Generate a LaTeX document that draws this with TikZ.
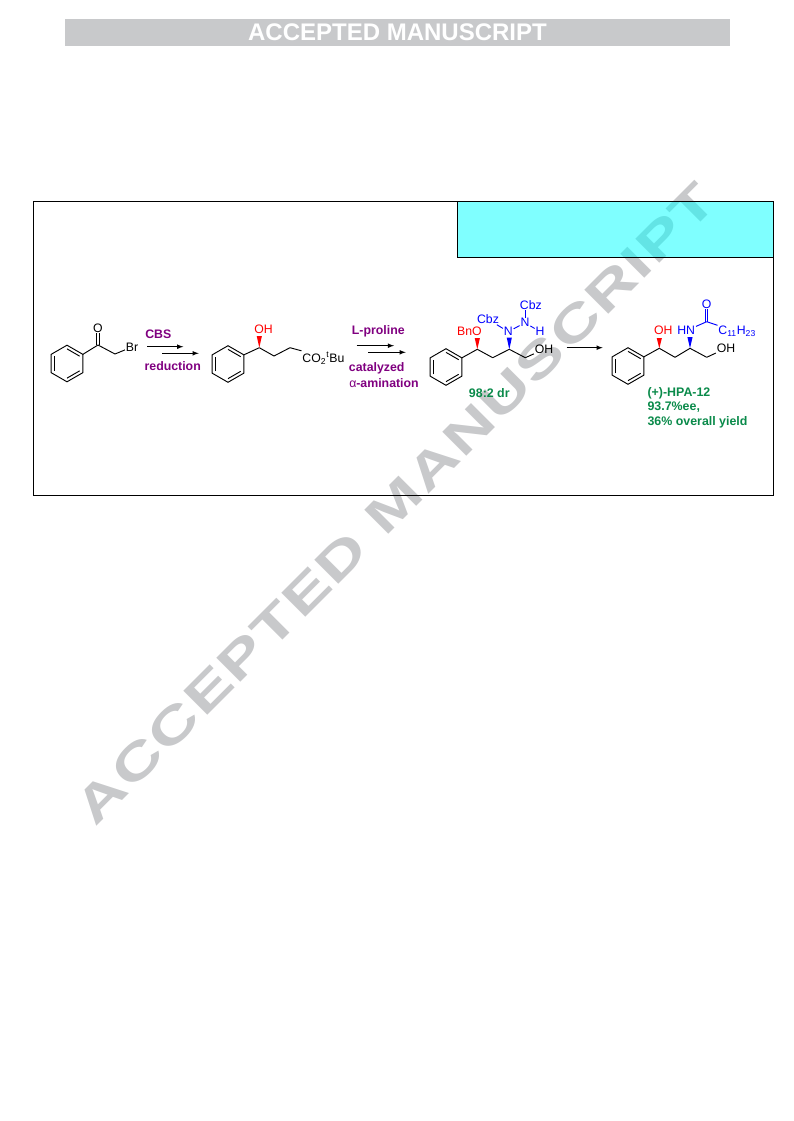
\documentclass[tikz,border=0pt]{standalone}
\usepackage{fontspec}
\setmainfont{Liberation Sans}
\newfontfamily\stampfont{Liberation Sans}[LetterSpace=2]
\usetikzlibrary{positioning,calc,arrows}
\definecolor{bandgray}{HTML}{C8C9CB}
\definecolor{lab}{HTML}{800080}
\definecolor{res}{HTML}{0A8A4A}
\tikzset{
  atm/.style={inner sep=0.5pt, font=\fontsize{9.2}{11}\selectfont},
  ox/.style={atm, text=red},
  nt/.style={atm, text=blue},
  reag/.style={inner sep=0pt, text=lab, font=\fontsize{9.25}{11}\selectfont\bfseries},
  prod/.style={inner sep=0pt, text=res, align=left, font=\fontsize{9.3}{11}\selectfont\bfseries},
  bd/.style={line width=0.7pt},
  rx/.style={-latex, line width=0.6pt},
  box/.style={draw=black, line width=0.75pt}
}
\newcommand{\benzene}[3]{
  \coordinate (#1c) at (#2,#3);
  \coordinate (#1t) at ($(#1c)+(0,-18.3)$);
  \coordinate (#1ur) at ($(#1c)+(15.85,-9.15)$);
  \coordinate (#1lr) at ($(#1c)+(15.85,9.15)$);
  \coordinate (#1b) at ($(#1c)+(0,18.3)$);
  \coordinate (#1ll) at ($(#1c)+(-15.85,9.15)$);
  \coordinate (#1ul) at ($(#1c)+(-15.85,-9.15)$);
  \draw[bd] (#1t) -- (#1ur) -- (#1lr) -- (#1b) -- (#1ll) -- (#1ul) -- cycle;
  \draw[bd] ($(#1c)!.8!(#1t)$) -- ($(#1c)!.8!(#1ur)$);
  \draw[bd] ($(#1c)!.8!(#1lr)$) -- ($(#1c)!.8!(#1b)$);
  \draw[bd] ($(#1c)!.8!(#1ll)$) -- ($(#1c)!.8!(#1ul)$);
}
\newcommand{\wedgebond}[3]{
  \fill[#1] (#2) -- ($(#3)!2.6!90:($(#3)+(0,1)$)$) -- ($(#3)!2.6!-90:($(#3)+(0,1)$)$) -- cycle;
}
\begin{document}
\begin{tikzpicture}[x=0.75pt,y=-0.75pt]
	\useasboundingbox (0,0) rectangle (793,1121);

	\node[rotate=45, anchor=base, inner sep=0pt, text=bandgray, font=\stampfont\fontsize{37}{42}\selectfont\bfseries] (stamp) at (407.7,515.3) {\scalebox{1.4}[1]{ACCEPTED MANUSCRIPT}};
	\node[fill=bandgray, text=white, inner sep=0pt, minimum width=498.75pt, minimum height=20.25pt, font=\fontsize{18}{20}\selectfont\bfseries] (band) at (397.5,32.5) {\raisebox{-0.6pt}{ACCEPTED MANUSCRIPT}};

	\draw[box] (33,201) rectangle (773,495);
	\draw[box, fill={rgb,1:red,0;green,1;blue,1}, fill opacity=0.5] (457,201) rectangle (773,257);

	\benzene{ra}{67}{363.5}
	\coordinate (ca) at (98,345);
	\coordinate (cb) at (115,354);
	\node[atm] (oa) at (98,328) {O};
	\node[atm] (br) at (132,347) {Br};
	\draw[bd] (raur) -- (ca);
	\draw[bd] (ca) -- (cb);
	\draw[bd] (cb) -- (br);
	\draw[bd, transform canvas={xshift=-0.9pt}] (ca) -- (oa);
	\draw[bd, transform canvas={xshift=0.9pt}] (ca) -- (oa);

	\draw[rx] (147,346.7) -- (183.3,346.7);
	\draw[rx] (162.3,353.3) -- (198.7,353.3);
	\node[reag] (cbs) at (158.3,334) {CBS};
	\node[reag] (redn) at (172.7,366) {reduction};

	\benzene{rb}{228}{364}
	\coordinate (cc) at (259.3,347.7);
	\coordinate (cd) at (274,356);
	\coordinate (ce) at (290,347.7);
	\coordinate (wa) at (259.3,336);
	\node[ox, anchor=west] (ob) at (253.5,329) {OH};
	\node[atm, anchor=west] (est) at (301.5,358) {CO\textsubscript{2}\textsuperscript{t}Bu};
	\draw[bd] (rbur) -- (cc);
	\draw[bd] (cc) -- (cd);
	\draw[bd] (cd) -- (ce);
	\draw[bd] (ce) -- (est.north west);
	\wedgebond{red}{cc}{wa}

	\draw[rx] (356.7,345.7) -- (394,345.7);
	\draw[rx] (368.3,352.3) -- (405.7,352.3);
	\node[reag] (pro) at (378.3,331.7) {L-proline};
	\node[reag] (cat) at (376.7,368.3) {catalyzed};
	\node[reag] (ami) at (384,383.3) {{\mdseries α}-amination};

	\benzene{rc}{446}{367}
	\coordinate (cf) at (477.3,349.3);
	\coordinate (cg) at (492.7,357.7);
	\coordinate (ch) at (509.3,349.3);
	\coordinate (ci) at (525.3,357.7);
	\coordinate (wb) at (477.3,338);
	\coordinate (wc) at (509.3,337.5);
	\node[ox] (bno) at (469.5,331.7) {BnO};
	\node[atm] (oc) at (544,349.3) {OH};
	\node[nt] (na) at (508.3,331.7) {N};
	\node[nt] (nb) at (525,322.7) {N};
	\node[nt] (cbza) at (488,319.3) {Cbz};
	\node[nt] (cbzb) at (530.8,305) {Cbz};
	\node[nt] (hn) at (540,331.7) {H};
	\draw[bd] (rcur) -- (cf);
	\draw[bd] (cf) -- (cg);
	\draw[bd] (cg) -- (ch);
	\draw[bd] (ch) -- (ci);
	\draw[bd] (ci) -- (oc);
	\draw[bd, blue] (na) -- (cbza);
	\draw[bd, blue] (na) -- (nb);
	\draw[bd, blue] (nb) -- (nb |- cbzb.south);
	\draw[bd, blue] (nb) -- (hn);
	\wedgebond{red}{cf}{wb}
	\wedgebond{blue}{ch}{wc}
	\node[prod] (dr) at (489.3,392.7) {98:2 dr};

	\draw[rx] (566.7,347.7) -- (602.7,347.7);

	\benzene{rd}{628}{366}
	\coordinate (cj) at (659.3,348.3);
	\coordinate (ck) at (675,357.3);
	\coordinate (cl) at (690,348.3);
	\coordinate (cm) at (706.7,357.3);
	\coordinate (cn) at (706.7,321.7);
	\coordinate (wd) at (659.3,338);
	\coordinate (we) at (690,337);
	\node[ox] (od) at (663.3,330.7) {OH};
	\node[nt] (hnb) at (686.2,330.7) {HN};
	\node[atm] (oe) at (726,348.3) {OH};
	\node[nt] (of) at (706.7,304) {O};
	\node[nt, anchor=west] (alk) at (717.5,331.5) {C\textsubscript{11}H\textsubscript{23}};
	\draw[bd] (rdur) -- (cj);
	\draw[bd] (cj) -- (ck);
	\draw[bd] (ck) -- (cl);
	\draw[bd] (cl) -- (cm);
	\draw[bd] (cm) -- (oe);
	\draw[bd, blue] (hnb) -- (cn);
	\draw[bd, blue] (cn) -- (alk.north west);
	\draw[bd, blue, transform canvas={xshift=-0.9pt}] (cn) -- (of);
	\draw[bd, blue, transform canvas={xshift=0.9pt}] (cn) -- (of);
	\wedgebond{red}{cj}{wd}
	\wedgebond{blue}{cl}{we}
	\node[prod, anchor=north west] (yld) at (647.3,387) {(+)-HPA-12\\93.7\%ee,\\36\% overall yield};
\end{tikzpicture}
\end{document}
